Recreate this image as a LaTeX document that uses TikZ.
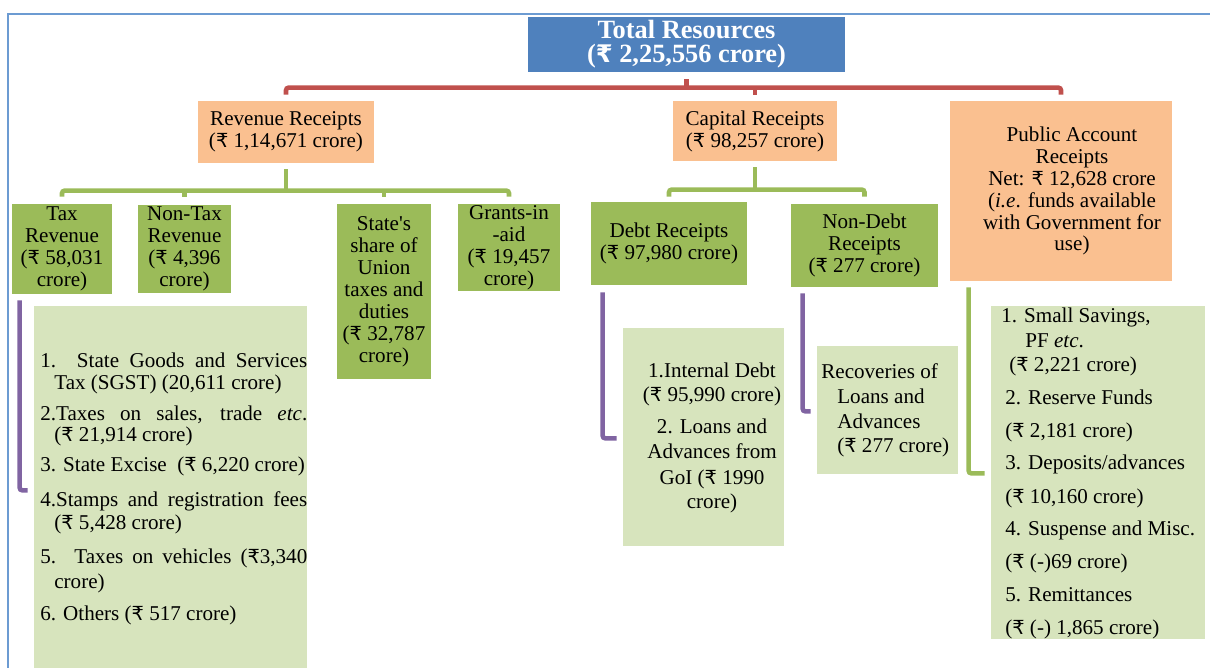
\documentclass[tikz,border=0pt]{standalone}
\usepackage{fontspec}
\setmainfont{Liberation Serif}
\newfontfamily\rupfont[Scale=0.92]{DejaVu Sans}
\usetikzlibrary{calc}

\definecolor{titleblue}{HTML}{4F81BD}
\definecolor{frameblue}{HTML}{6C9BD2}
\definecolor{boxorange}{HTML}{FAC090}
\definecolor{boxgreen}{HTML}{9BBB59}
\definecolor{listgreen}{HTML}{D7E4BD}
\definecolor{linered}{HTML}{C0504D}
\definecolor{linepurple}{HTML}{8064A2}

\newcommand{\rup}{{\rupfont ₹}}
\newcommand{\boxfont}{\fontsize{12}{12.5}\selectfont}

\tikzset{
  boxsize/.style 2 args={minimum width=#1*0.02cm, minimum height=#2*0.02cm},
  boxbase/.style={rectangle, inner sep=0pt, align=center, font=\boxfont},
  titlebox/.style={boxbase, fill=titleblue, text=white,
    font=\fontsize{15}{13.5}\selectfont\bfseries},
  orangebox/.style={boxbase, fill=boxorange},
  greenbox/.style={boxbase, fill=boxgreen},
  listbox/.style={rectangle, inner sep=0pt, fill=listgreen},
  plaintext/.style={inner sep=0pt, align=center, font=\boxfont},
  listtext/.style={anchor=base west, inner sep=0pt, font=\boxfont},
  listmid/.style={anchor=base, inner sep=0pt, font=\boxfont},
  redline/.style={line width=2.6pt, draw=linered, rounded corners=1.5pt},
  greenline/.style={line width=2.6pt, draw=boxgreen, rounded corners=1.5pt},
  purpleline/.style={line width=2.6pt, draw=linepurple, rounded corners=1.5pt},
  frameline/.style={line width=1.2pt, draw=frameblue}
}

\begin{document}
\begin{tikzpicture}[x=0.02cm, y=-0.02cm]
\useasboundingbox (0,0) rectangle (1210,668);

% Drawing frame
\draw[frameline] (8,668) -- (8,14) -- (1210,14);

% Drawing box Total Resources
\node[titlebox, boxsize={317}{55}] (total) at (686.5,44.5) {Total Resources\\(\rup{} 2,25,556 crore)};

% Drawing boxes Revenue, Capital and Public Account
\node[orangebox, boxsize={176}{62}] (revrec) at (286,132) {Revenue Receipts\\(\rup{} 1,14,671 crore)};
\node[orangebox, boxsize={164}{60}] (caprec) at (755,131) {Capital Receipts\\(\rup{} 98,257 crore)};
\node[orangebox, boxsize={222}{180}] (pubrec) at (1061,191) {};
\node[plaintext] (pubtext) at (1072,191) {Public Account\\Receipts\\Net: \rup{} 12,628 crore\\(\textit{i.e}. funds available\\with Government for\\use)};

% Drawing red lines
\draw[redline] ($(total.south)+(0,7)$) -- ++(0,9);
\draw[redline] ($(revrec.north)+(0,-6)$) -- ++(0,-7) -| ($(pubrec.north)+(0,-6)$);
\draw[redline] ($(caprec.north)+(0,-6)$) -- ++(0,-7);

% Drawing boxes under Revenue Receipts
\node[greenbox, boxsize={100}{90}] (taxrev) at (62,249) {Tax\\Revenue\\(\rup{} 58,031\\crore)};
\node[greenbox, boxsize={93}{88}] (nontax) at (184.5,249) {Non-Tax\\Revenue\\(\rup{} 4,396\\crore)};
\node[greenbox, boxsize={94}{175}] (share) at (384,291.5) {State\textquotesingle s\\share of\\Union\\taxes and\\duties\\(\rup{} 32,787\\crore)};
\node[greenbox, boxsize={102}{87}] (grants) at (509,247.5) {Grants-in\\-aid\\(\rup{} 19,457\\crore)};

% Drawing boxes under Capital Receipts
\node[greenbox, boxsize={156}{83}] (debtrec) at (669,243.5) {Debt Receipts\\(\rup{} 97,980 crore)};
\node[greenbox, boxsize={147}{83}] (nondebt) at (864.5,245.5) {Non-Debt\\Receipts\\(\rup{} 277 crore)};

% Drawing green lines
\draw[greenline] ($(revrec.south)+(0,6)$) -- ++(0,22);
\draw[greenline] ($(taxrev.north)+(0,-7)$) -- ++(0,-6) -| ($(grants.north)+(0,-7)$);
\draw[greenline] ($(nontax.north)+(0,-8)$) -- ++(0,-6);
\draw[greenline] ($(share.north)+(0,-7)$) -- ++(0,-6);
\draw[greenline] ($(caprec.south)+(0,6)$) -- ++(0,23);
\draw[greenline] ($(debtrec.north)+(0,-5)$) -- ++(0,-7) -| ($(nondebt.north)+(0,-7)$);

% Drawing list boxes
\node[listbox, boxsize={273}{362}] (revlist) at (170.5,487) {};
\node[listbox, boxsize={161}{218}] (debtlist) at (703.5,437) {};
\node[listbox, boxsize={141}{128}] (ndebtlist) at (887.5,410) {};
\node[listbox, boxsize={214}{333}] (publist) at (1098,472.5) {};

% Drawing side lines of lists
\draw[purpleline] ($(taxrev.south west)+(8,6)$) -- ++(0,190) -- ++(8,0);
\draw[purpleline] ($(debtrec.south west)+(12,7)$) -- ++(0,146) -- ++(14,0);
\draw[purpleline] ($(nondebt.south west)+(12,6)$) -- ++(0,118) -- ++(8,0);
\draw[greenline] ($(pubrec.south west)+(19,6)$) -- ++(0,186) -- ++(16,0);

% Marking list of tax revenue
\node[listtext] (taxitem1) at (40,368) {\makebox[5.34cm][s]{1.\ \ State Goods and Services}};
\node[listtext] (taxitem2) at (54,390) {Tax (SGST) (20,611 crore)};
\node[listtext] (taxitem3) at (40,421) {\makebox[5.34cm][s]{2.Taxes on sales, trade \textit{etc}.}};
\node[listtext] (taxitem4) at (54,442) {(\rup{} 21,914 crore)};
\node[listtext] (taxitem5) at (40,472) {3. State Excise\ \ (\rup{} 6,220 crore)};
\node[listtext] (taxitem6) at (40,506) {\makebox[5.34cm][s]{4.Stamps and registration fees}};
\node[listtext] (taxitem7) at (54,529) {(\rup{} 5,428 crore)};
\node[listtext] (taxitem8) at (40,563) {\makebox[5.34cm][s]{5. Taxes on vehicles (\rup{}3,340}};
\node[listtext] (taxitem9) at (54,588) {crore)};
\node[listtext] (taxitem10) at (40,620) {6. Others (\rup{} 517 crore)};

% Marking list of debt receipts
\node[listmid] (debtitem1) at (712,378) {1.Internal Debt};
\node[listmid] (debtitem2) at (712,402) {(\rup{} 95,990 crore)};
\node[listmid] (debtitem3) at (712,434) {2. Loans and};
\node[listmid] (debtitem4) at (712,459) {Advances from};
\node[listmid] (debtitem5) at (712,484) {GoI (\rup{} 1990};
\node[listmid] (debtitem6) at (712,509) {crore)};

% Marking list of non-debt receipts
\node[listtext] (ndebtitem1) at (821,379) {Recoveries of};
\node[listtext] (ndebtitem2) at (837,404) {Loans and};
\node[listtext] (ndebtitem3) at (837,429) {Advances};
\node[listtext] (ndebtitem4) at (837,453) {(\rup{} 277 crore)};

% Marking list of public account
\node[listtext] (pubitem1) at (1001,323) {1. Small Savings,};
\node[listtext] (pubitem2) at (1025,348) {PF \textit{etc}.};
\node[listtext] (pubitem3) at (1009,372) {(\rup{} 2,221 crore)};
\node[listtext] (pubitem4) at (1005,405) {2. Reserve Funds};
\node[listtext] (pubitem5) at (1005,438) {(\rup{} 2,181 crore)};
\node[listtext] (pubitem6) at (1005,470) {3. Deposits/advances};
\node[listtext] (pubitem7) at (1005,503) {(\rup{} 10,160 crore)};
\node[listtext] (pubitem8) at (1005,536) {4. Suspense and Misc.};
\node[listtext] (pubitem9) at (1005,568) {(\rup{} (-)69 crore)};
\node[listtext] (pubitem10) at (1005,601) {5. Remittances};
\node[listtext] (pubitem11) at (1005,634) {(\rup{} (-) 1,865 crore)};

\end{tikzpicture}
\end{document}
